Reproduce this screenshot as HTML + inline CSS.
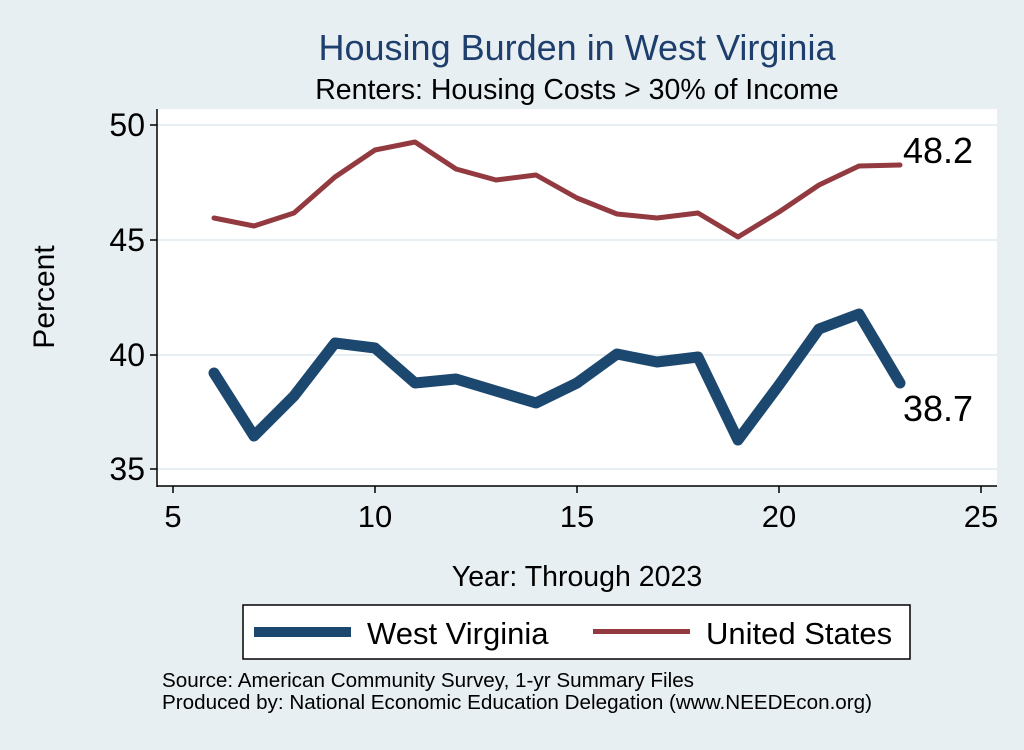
<!DOCTYPE html>
<html><head><meta charset="utf-8"><style>body{margin:0;background:#e8eff2}</style></head><body>
<svg width="1024" height="745" xmlns="http://www.w3.org/2000/svg" font-family="Liberation Sans, sans-serif">
<rect width="1024" height="745" fill="#e8eff2"/>
<rect x="157" y="109" width="840" height="377" fill="#fff"/>
<g stroke="#e8eff2" stroke-width="2">
<line x1="157" y1="125" x2="997" y2="125"/><line x1="157" y1="240" x2="997" y2="240"/>
<line x1="157" y1="355" x2="997" y2="355"/><line x1="157" y1="469" x2="997" y2="469"/></g>
<g stroke="#000" stroke-width="1.5">
<line x1="157" y1="109" x2="157" y2="487"/><line x1="157" y1="486" x2="997" y2="486"/>
<line x1="150" y1="125" x2="157" y2="125"/><line x1="150" y1="240" x2="157" y2="240"/>
<line x1="150" y1="355" x2="157" y2="355"/><line x1="150" y1="469" x2="157" y2="469"/>
<line x1="173" y1="486" x2="173" y2="493"/><line x1="375" y1="486" x2="375" y2="493"/>
<line x1="577" y1="486" x2="577" y2="493"/><line x1="779" y1="486" x2="779" y2="493"/>
<line x1="981" y1="486" x2="981" y2="493"/></g>
<g font-size="32" text-anchor="end" fill="#000">
<text x="145" y="136">50</text><text x="145" y="251">45</text><text x="145" y="366">40</text><text x="145" y="480">35</text></g>
<g font-size="31" text-anchor="middle" fill="#000">
<text x="173" y="527">5</text><text x="375" y="527">10</text><text x="577" y="527">15</text><text x="779" y="527">20</text><text x="981" y="527">25</text></g>
<text x="577" y="60" font-size="36" fill="#1e3f6e" text-anchor="middle">Housing Burden in West Virginia</text>
<text x="577" y="99" font-size="28.5" text-anchor="middle">Renters: Housing Costs &gt; 30% of Income</text>
<text x="577" y="586" font-size="28.5" text-anchor="middle">Year: Through 2023</text>
<text transform="translate(54,297) rotate(-90)" font-size="30" text-anchor="middle">Percent</text>
<polyline fill="none" stroke="#923a3f" stroke-width="5" stroke-linejoin="round" stroke-linecap="round"
points="214,218 254,226 294,213 335,177 375,150 415,142 456,169 496,180 536,175 577,198 617,214 657,218 698,213 738,237 779,212 819,185 859,166 900,165"/>
<polyline fill="none" stroke="#1c4870" stroke-width="11" stroke-linejoin="round" stroke-linecap="round"
points="214,373 254,436 294,396 335,343 375,348 415,383 456,379 496,391 536,403 577,383 617,354 657,362 698,357 738,440 779,385 819,329 859,314 900,383"/>
<text x="903" y="163" font-size="36">48.2</text>
<text x="903" y="421" font-size="36">38.7</text>
<rect x="243" y="605" width="667" height="54" fill="#fff" stroke="#000" stroke-width="1.5"/>
<rect x="254" y="627" width="97" height="10" fill="#1c4870"/>
<rect x="593" y="629" width="97" height="5" fill="#923a3f"/>
<text x="367" y="644" font-size="31">West Virginia</text>
<text x="706" y="644" font-size="31">United States</text>
<text x="162" y="687" font-size="20" textLength="532" lengthAdjust="spacingAndGlyphs">Source: American Community Survey, 1-yr Summary Files</text>
<text x="162" y="709" font-size="20" textLength="710" lengthAdjust="spacingAndGlyphs">Produced by: National Economic Education Delegation (www.NEEDEcon.org)</text>
</svg>
</body></html>
